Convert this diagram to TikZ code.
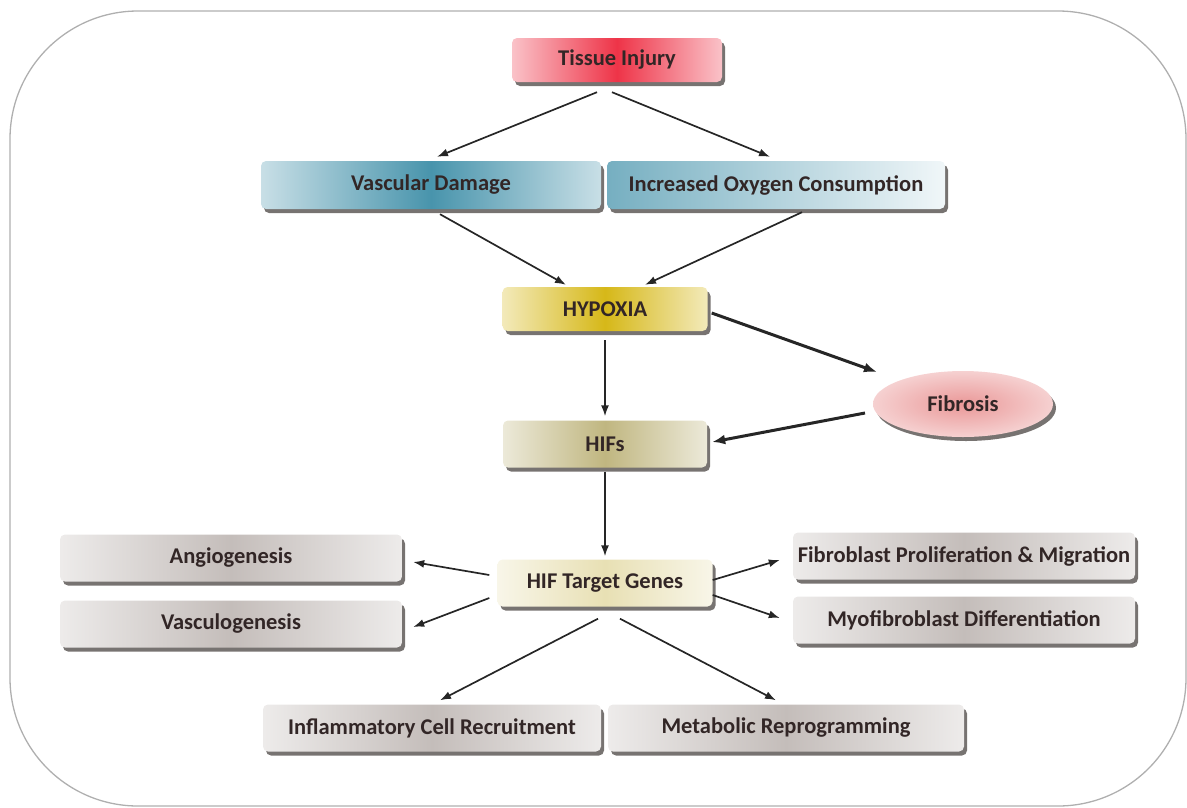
\documentclass[tikz,border=0pt]{standalone}
\usepackage{fontspec}
\setmainfont{Carlito}
\usepackage{tikz}
\usetikzlibrary{arrows,arrows.meta,positioning}
\usetikzlibrary{shadows}
\usetikzlibrary{shapes.geometric}
\definecolor{txt}{RGB}{50,38,38}
\definecolor{shd}{RGB}{95,90,88}
\definecolor{frame}{RGB}{175,175,175}
\definecolor{injred}{RGB}{238,52,72}
\definecolor{vasblue}{RGB}{72,148,172}
\definecolor{hypyel}{RGB}{214,184,24}
\definecolor{hifolive}{RGB}{192,182,128}
\definecolor{genecream}{RGB}{232,224,180}
\definecolor{outgrey}{RGB}{196,189,186}
\definecolor{fibpink}{RGB}{234,152,152}
\tikzstyle{arr}=[-{Latex[length=11pt,width=8pt]},line width=1.7pt,draw=black!85]
\tikzstyle{tarr}=[-{Latex[length=13pt,width=10pt]},line width=3pt,draw=black!85]

\begin{document}
\begin{tikzpicture}[x=1pt,y=-1pt,
box/.style={rectangle,rounded corners=5pt,minimum height=47pt,inner sep=0pt,
  font=\fontsize{22.5}{26}\selectfont\bfseries,text=txt,
  drop shadow={shadow xshift=3pt,shadow yshift=-4pt,fill=shd,opacity=.85}},
shade3/.style={left color=#1!30!white,right color=#1!30!white,middle color=#1},
]
\useasboundingbox (0,0) rectangle (1187,807);
\draw[frame,line width=1.3pt,rounded corners=128pt] (10,11) rectangle (1186,806);

% top of the chain
\node[box,shade3=injred,minimum width=210pt,minimum height=44pt] (injury) at (617,60) {Tissue Injury};
\node[box,shade3=vasblue,minimum width=340pt,minimum height=48pt] (vasc) at (431,185) {Vascular Damage};
\node[box,left color=vasblue!75,middle color=vasblue!45,right color=vasblue!8,
  minimum width=338pt,minimum height=48pt] (oxy) at (776,185) {Increased Oxygen Consumption};
\node[box,shade3=hypyel,minimum width=205pt,minimum height=44pt] (hypoxia) at (605,309) {HYPOXIA};
\node[ellipse,inner color=fibpink,outer color=fibpink!45,minimum width=180pt,minimum height=66pt,
  font=\fontsize{22.5}{26}\selectfont\bfseries,text=txt,
  drop shadow={shadow xshift=3pt,shadow yshift=-4pt,fill=shd,opacity=.85}] (fibrosis) at (963,404) {Fibrosis};
\node[box,shade3=hifolive,minimum width=204pt] (hifs) at (605,444) {HIFs};
\node[box,shade3=genecream,minimum width=215pt] (genes) at (605,583) {HIF Target Genes};

% outcomes
\node[box,shade3=outgrey,minimum width=342pt] (angio) at (231,558) {Angiogenesis};
\node[box,shade3=outgrey,minimum width=342pt] (vasculo) at (231,624) {Vasculogenesis};
\node[box,shade3=outgrey,minimum width=342pt] (fibro) at (964,556) {Fibroblast Proliferation \& Migration};
\node[box,shade3=outgrey,minimum width=342pt] (myo) at (964,620) {Myofibroblast Differentiation};
\node[box,shade3=outgrey,minimum width=338pt] (inflam) at (432,728) {Inflammatory Cell Recruitment};
\node[box,shade3=outgrey,minimum width=356pt] (metab) at (786,728) {Metabolic Reprogramming};

\draw[arr] ([shift={(-20,10)}]injury.south) -- ([shift={(6,-4)}]vasc.north);
\draw[arr] ([shift={(-5,10)}]injury.south) -- ([shift={(-6,-4)}]oxy.north);
\draw[arr] ([shift={(9,5)}]vasc.south) -- ([shift={(-39,-2)}]hypoxia.north);
\draw[arr] ([shift={(26,3)}]oxy.south) -- ([shift={(40,-2)}]hypoxia.north);
\draw[arr] ([shift={(0,9)}]hypoxia.south) -- ([shift={(0,-4)}]hifs.north);
\draw[tarr] ([shift={(4,4)}]hypoxia.east) -- ([shift={(-86,-32)}]fibrosis.center);
\draw[tarr] ([shift={(-98,9)}]fibrosis.center) -- ([shift={(5,-2)}]hifs.east);
\draw[arr] ([shift={(0,4)}]hifs.south) -- ([shift={(0,-3)}]genes.north);
\draw[arr] ([shift={(-8,-8)}]genes.west) -- ([shift={(11,4)}]angio.east);
\draw[arr] ([shift={(-8,15)}]genes.west) -- ([shift={(11,3)}]vasculo.east);
\draw[arr] ([shift={(0,-3)}]genes.east) -- ([shift={(-13,4)}]fibro.west);
\draw[arr] ([shift={(0,12)}]genes.east) -- ([shift={(-13,-2)}]myo.west);
\draw[arr] ([shift={(-7,12)}]genes.south) -- ([shift={(8,-4)}]inflam.north);
\draw[arr] ([shift={(15,12)}]genes.south) -- ([shift={(-10,-4)}]metab.north);
\end{tikzpicture}
\end{document}
